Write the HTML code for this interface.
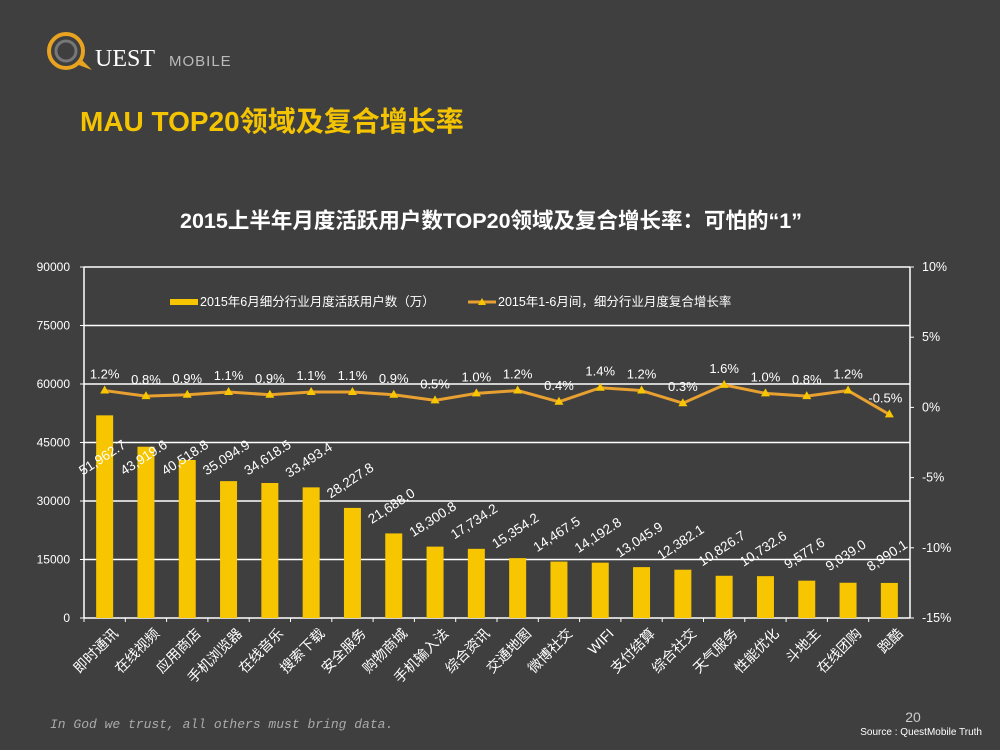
<!DOCTYPE html>
<html><head><meta charset="utf-8"><style>
body{margin:0;background:#3f3f3f;}
svg{display:block;font-family:"Liberation Sans","Noto Sans CJK SC",sans-serif;}
</style></head><body>
<svg width="1000" height="750" viewBox="0 0 1000 750">
<rect width="1000" height="750" fill="#3f3f3f"/>
<g>
<circle cx="66" cy="51" r="17" fill="none" stroke="#e8a320" stroke-width="4"/>
<circle cx="66" cy="51" r="10" fill="none" stroke="#777" stroke-width="3"/>
<path d="M76 64 L92 70 L80 58 Z" fill="#e8a320"/>
<text x="95" y="66" font-family="Liberation Serif,serif" font-size="24" fill="#fff">UEST</text>
<text x="169" y="66" font-size="15" fill="#bbb" letter-spacing="1">MOBILE</text>
</g>
<text x="80" y="131" font-size="28" font-weight="bold" fill="#f5c400">MAU TOP20领域及复合增长率</text>
<text x="491" y="228" text-anchor="middle" font-size="21.5" font-weight="bold" fill="#fff">2015上半年月度活跃用户数TOP20领域及复合增长率：可怕的“1”</text>
<g>
<rect x="170" y="299" width="28" height="6" fill="#f7c600"/>
<text x="200" y="306" font-size="12.5" fill="#fff">2015年6月细分行业月度活跃用户数（万）</text>
<line x1="468" y1="302" x2="496" y2="302" stroke="#e8a030" stroke-width="3"/>
<path d="M482 298 L486 305 L478 305 Z" fill="#f7c600"/>
<text x="498" y="306" font-size="12.5" fill="#fff">2015年1-6月间，细分行业月度复合增长率</text>
</g>
<g id="chart"></g>
<text x="50" y="728" font-family="Liberation Mono,monospace" font-style="italic" font-size="13" fill="#aaa">In God we trust, all others must bring data.</text>
<text x="913" y="722" text-anchor="middle" font-size="14" fill="#ccc">20</text>
<text x="982" y="735" text-anchor="end" font-size="10" fill="#fff">Source : QuestMobile Truth</text>
</svg>
<script>
const categories=["即时通讯","在线视频","应用商店","手机浏览器","在线音乐","搜索下载","安全服务","购物商城","手机输入法","综合资讯","交通地图","微博社交","WIFI","支付结算","综合社交","天气服务","性能优化","斗地主","在线团购","跑酷"];
const mau=[51962.7,43919.6,40518.8,35094.9,34618.5,33493.4,28227.8,21688.0,18300.8,17734.2,15354.2,14467.5,14192.8,13045.9,12382.1,10826.7,10732.6,9577.6,9039.0,8990.1];
const growth=[1.2,0.8,0.9,1.1,0.9,1.1,1.1,0.9,0.5,1.0,1.2,0.4,1.4,1.2,0.3,1.6,1.0,0.8,1.2,-0.5];
const leftTicks=[0,15000,30000,45000,60000,75000,90000];
const rightTicks=[-15,-10,-5,0,5,10];
const X0=84,X1=910,Y0=618,Y1=267;
const NS="http://www.w3.org/2000/svg";
const g=document.getElementById('chart');
const slot=(X1-X0)/categories.length;
const xC=i=>X0+slot*(i+0.5);
const yL=v=>Y0-(v/90000)*(Y0-Y1);
const yR=v=>Y0-((v+15)/25)*(Y0-Y1);
function mk(tag,attrs,txt){const e=document.createElementNS(NS,tag);for(const k in attrs)e.setAttribute(k,attrs[k]);if(txt!==undefined)e.textContent=txt;g.appendChild(e);return e;}
leftTicks.forEach(t=>{
  if(t>0){const l=mk('line',{x1:X0,x2:X1,y1:yL(t),y2:yL(t),stroke:'#fff','stroke-width':1.5});
  
  }
  const tx=mk('text',{x:70,y:yL(t)+4,'text-anchor':'end','font-size':12,fill:'#fff'},String(t));
  
  
  mk('line',{x1:X0-4,x2:X0,y1:yL(t),y2:yL(t),stroke:'#fff'});
});
rightTicks.forEach(t=>{
  const tx=mk('text',{x:922,y:yR(t)+4,'font-size':12.5,fill:'#fff'},t+'%');
  
  
  mk('line',{x1:X1,x2:X1+4,y1:yR(t),y2:yR(t),stroke:'#fff'});
});
mk('line',{x1:X0,x2:X0,y1:Y1,y2:Y0,stroke:'#fff','stroke-width':1.5});
mk('line',{x1:X1,x2:X1,y1:Y1,y2:Y0,stroke:'#fff','stroke-width':1.5});
mk('line',{x1:X0,x2:X1,y1:Y0,y2:Y0,stroke:'#fff','stroke-width':1.5});
categories.forEach((c,i)=>{
  mk('line',{x1:X0+slot*i,x2:X0+slot*i,y1:Y0,y2:Y0+4,stroke:'#fff'});
  const b=mk('rect',{x:xC(i)-8.5,y:yL(mau[i]),width:17,height:Y0-yL(mau[i]),fill:'#f7c600'});
  
  
  const ly=Math.max(yL(mau[i])-27,458);
  const v=mk('text',{x:xC(i)-2,y:ly+4,'text-anchor':'middle','font-size':13.5,fill:'#fff',transform:`rotate(-33 ${xC(i)-2} ${ly})`},mau[i].toLocaleString('en-US',{minimumFractionDigits:1,maximumFractionDigits:1}));
  
  
  const cx=xC(i)+8,cy=628;
  const ct=mk('text',{x:cx,y:cy+9,'text-anchor':'end','font-size':14,fill:'#fff',transform:`rotate(-45 ${cx} ${cy})`},c);
  
  
});
const pts=growth.map((v,i)=>xC(i)+','+yR(v)).join(' ');
const line=mk('polyline',{points:pts,fill:'none',stroke:'#e8a030','stroke-width':3});


growth.forEach((v,i)=>{
  const x=xC(i),y=yR(v);
  const m=mk('path',{d:`M${x} ${y-5} L${x+4.5} ${y+3} L${x-4.5} ${y+3} Z`,fill:'#f7c600'});
  
  
  const t=mk('text',{x:i===19?x-4:x,y:y-12,'text-anchor':'middle','font-size':13,fill:'#fff'},v.toFixed(1)+'%');
  
  
});
</script>
</body></html>
